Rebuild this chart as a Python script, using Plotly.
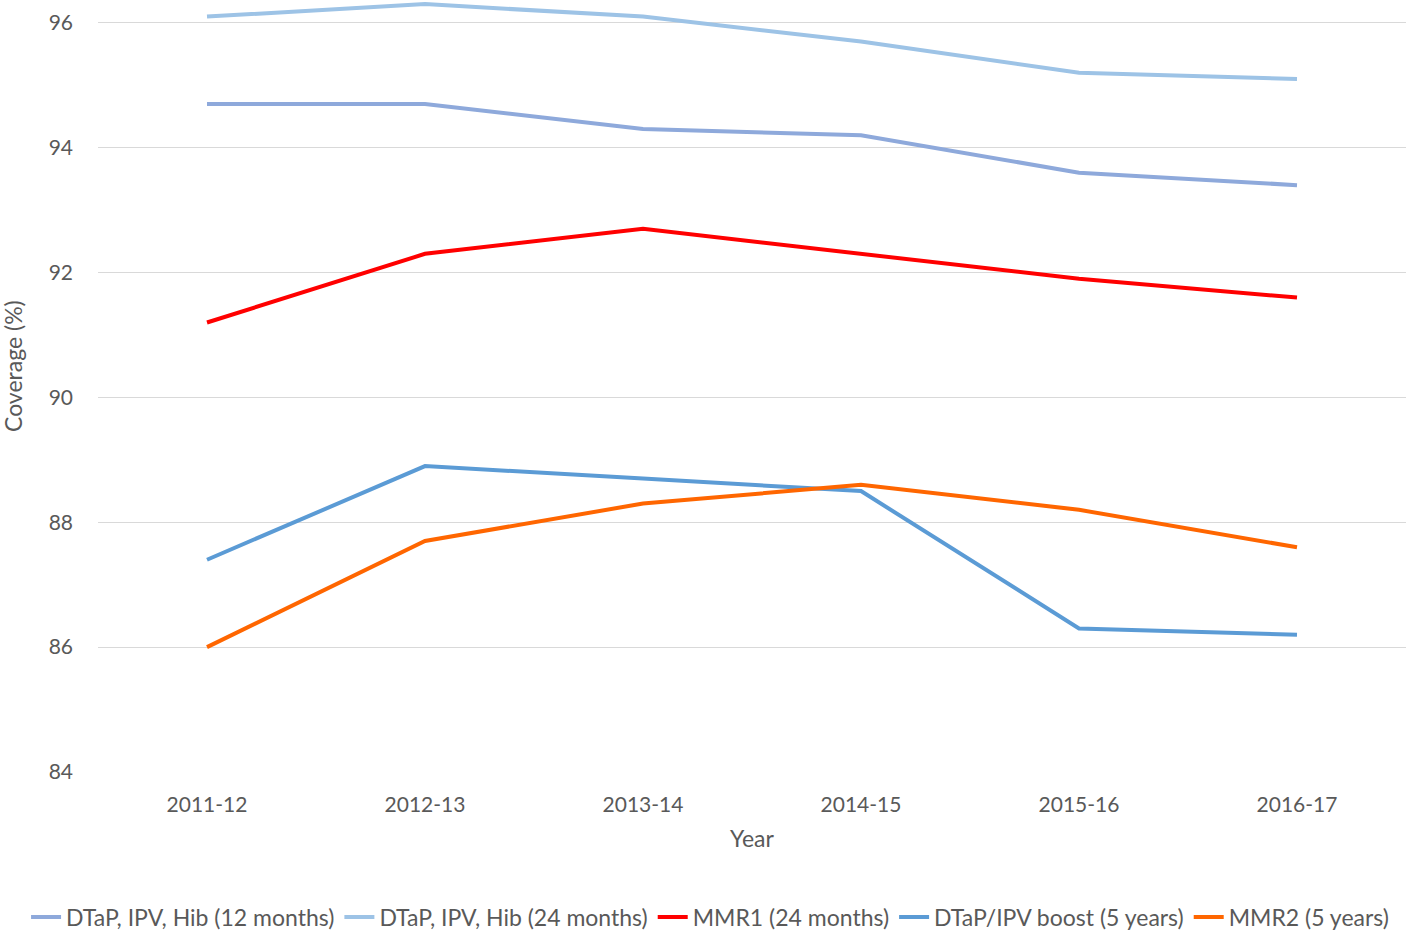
import plotly.graph_objects as go

years = ["2011-12", "2012-13", "2013-14", "2014-15", "2015-16", "2016-17"]
dtap_12m = [94.7, 94.7, 94.3, 94.2, 93.6, 93.4]
dtap_24m = [96.1, 96.3, 96.1, 95.7, 95.2, 95.1]
mmr1_24m = [91.2, 92.3, 92.7, 92.3, 91.9, 91.6]
dtap_boost_5y = [87.4, 88.9, 88.7, 88.5, 86.3, 86.2]
mmr2_5y = [86.0, 87.7, 88.3, 88.6, 88.2, 87.6]

series = [
    ("DTaP, IPV, Hib (12 months)", dtap_12m, "#8EA9DB"),
    ("DTaP, IPV, Hib (24 months)", dtap_24m, "#9DC3E6"),
    ("MMR1 (24 months)", mmr1_24m, "#FF0000"),
    ("DTaP/IPV boost (5 years)", dtap_boost_5y, "#5B9BD5"),
    ("MMR2 (5 years)", mmr2_5y, "#FF6600"),
]

font_family = "Lato, 'Open Sans', sans-serif"
grey = "#595959"

fig = go.Figure()
for name, vals, color in series:
    fig.add_trace(go.Scatter(x=years, y=vals, name=name, mode="lines",
                             line=dict(color=color, width=4)))

fig.update_layout(
    width=1418, height=932,
    paper_bgcolor="white", plot_bgcolor="white",
    margin=dict(l=98, r=12, t=1, b=160, autoexpand=False),
    font=dict(family=font_family, size=21, color=grey),
    showlegend=True,
    legend=dict(orientation="h", xref="paper", x=-0.055, xanchor="left",
                yref="paper", y=-0.188, yanchor="middle",
                font=dict(size=23, color=grey), itemwidth=30,
                tracegroupgap=0, borderwidth=0),
)
fig.update_xaxes(
    type="category", range=[-0.5, 5.5], showgrid=False, zeroline=False,
    showline=False, ticks="", ticklabelstandoff=18,
    tickfont=dict(size=21, color=grey),
    title=dict(text="Year", font=dict(size=23, color=grey), standoff=15),
)
fig.update_yaxes(
    range=[84, 96.35], tickvals=[84, 86, 88, 90, 92, 94, 96],
    showgrid=True, gridcolor="#D9D9D9", gridwidth=1, zeroline=False,
    showline=False, ticks="", ticklabelstandoff=24,
    tickfont=dict(size=21, color=grey),
    title=None,
)
fig.add_annotation(text="Coverage (%)", xref="paper", yref="paper",
                   x=-0.065, y=(366 - 772) / -771, xanchor="center", yanchor="middle",
                   textangle=-90, showarrow=False,
                   font=dict(size=23, color=grey))

fig.write_html("out.html", config={"displayModeBar": False},
               post_script="document.body.style.margin='0';")
